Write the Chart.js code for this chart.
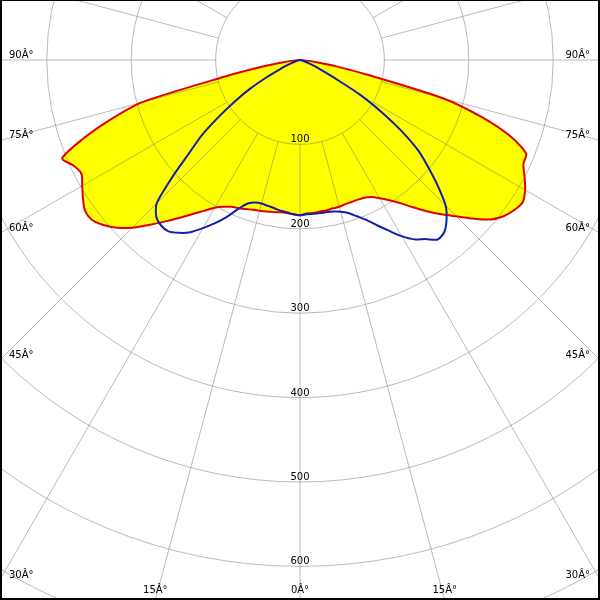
<!DOCTYPE html>
<html>
<head>
<meta charset="utf-8">
<title>Polar intensity diagram</title>
<script src="https://cdn.jsdelivr.net/npm/chart.js@4.4.1/dist/chart.umd.min.js"></script>
<style>
  html, body { margin: 0; padding: 0; background: #fff; }
  #wrap { width: 600px; height: 600px; }
</style>
</head>
<body>
<div id="wrap"><canvas id="polarChart" width="600" height="600"></canvas></div>
<script>
// gamma angles (deg), negative = left half of the diagram
const gammaDeg = [-90, -87.5, -85, -82.5, -80, -77.5, -75, -72.5, -70, -67.5, -65, -62.5,
  -60, -57.5, -55, -52.5, -50, -47.5, -45, -42.5, -40, -37.5, -35, -32.5,
  -30, -27.5, -25, -22.5, -20, -17.5, -15, -12.5, -10, -7.5, -5, -2.5,
  0, 2.5, 5, 7.5, 10, 12.5, 15, 17.5, 20, 22.5, 25, 27.5,
  30, 32.5, 35, 37.5, 40, 42.5, 45, 47.5, 50, 52.5, 55, 57.5,
  60, 62.5, 65, 67.5, 70, 72.5, 75, 77.5, 80, 82.5, 85, 87.5, 90];

// red plane (filled yellow)
const planeRed = [0, 0, 5, 20, 45, 92, 195, 236, 274, 305, 296, 292,
  298, 305, 311, 311, 304, 294, 281, 265, 250, 236, 223, 212,
  202, 196, 192, 190, 188, 186, 185, 184, 183, 182, 182, 183,
  184, 182, 182, 181, 181, 180, 180, 179, 179, 179, 180, 183,
  189, 197, 207, 220, 234, 248, 262, 278, 294, 304, 310, 313,
  308, 300, 292, 290, 266, 227, 176, 85, 45, 20, 5, 0, 0];

// blue plane
const planeBlue = [0, 0, 0, 0, 0, 1, 3, 6, 10, 17, 27, 45,
  69, 92, 118, 147, 171, 205, 240, 252, 256, 256, 250, 242,
  230, 218, 205, 191, 181, 177, 176, 177, 178, 180, 181, 183,
  184, 183, 183, 183, 183, 184, 186, 190, 197, 205, 216, 228,
  241, 252, 259, 268, 266, 257, 244, 222, 199, 177, 147, 114,
  82, 46, 27, 17, 10, 6, 3, 1, 0, 0, 0, 0, 0];

const ringValues = [100, 200, 300, 400, 500, 600, 700, 800];
const ringLabels = ["100", "200", "300", "400", "500", "600"];
const angleTicks = [0, 15, 30, 45, 60, 75, 90];

const pxPer100 = 84.4;   // radial scale
const centerX = 300, centerY = 60;
const gridColor = "rgba(120,120,120,0.5)";

function toXY(values) {
  return gammaDeg.map((g, i) => {
    const a = g * Math.PI / 180;
    return { x: values[i] * Math.sin(a), y: -values[i] * Math.cos(a) };
  });
}

const unit = pxPer100 / 100;

const polarGrid = {
  id: "polarGrid",
  beforeDatasetsDraw(chart) {
    const { ctx, scales: { x, y } } = chart;
    const cx = x.getPixelForValue(0), cy = y.getPixelForValue(0);
    ctx.save();
    ctx.strokeStyle = gridColor;
    ctx.lineWidth = 1;
    ringValues.forEach(v => {
      ctx.beginPath();
      ctx.arc(cx, cy, x.getPixelForValue(v) - cx, 0, Math.PI * 2);
      ctx.stroke();
    });
    const r0 = x.getPixelForValue(ringValues[0]) - cx;
    const r1 = x.getPixelForValue(1000) - cx;
    for (let a = 0; a < 360; a += 15) {
      const t = a * Math.PI / 180;
      ctx.beginPath();
      ctx.moveTo(cx + r0 * Math.sin(t), cy + r0 * Math.cos(t));
      ctx.lineTo(cx + r1 * Math.sin(t), cy + r1 * Math.cos(t));
      ctx.stroke();
    }
    ctx.restore();
  },
  afterDatasetsDraw(chart) {
    const { ctx, chartArea, scales: { x, y } } = chart;
    const cx = x.getPixelForValue(0), cy = y.getPixelForValue(0);
    ctx.save();
    ctx.fillStyle = "#000";
    ctx.font = '10px "DejaVu Sans"';

    // ring labels
    ctx.textAlign = "center";
    ctx.textBaseline = "alphabetic";
    ringLabels.forEach(lbl => {
      const r = x.getPixelForValue(Number(lbl)) - cx;
      ctx.fillText(lbl, cx, cy + r - 2);
    });

    // angle labels at the frame edge
    angleTicks.forEach(a => {
      const t = a * Math.PI / 180;
      const sides = a === 0 ? [1] : [-1, 1];
      sides.forEach(side => {
        const s = Math.sin(t), c = Math.cos(t);
        const tx = s > 1e-9 ? (side > 0 ? chartArea.right - cx : cx - chartArea.left) / s : Infinity;
        const ty = c > 1e-9 ? (chartArea.bottom - cy) / c : Infinity;
        const text = a + "Â°";
        if (tx < ty) {
          const yHit = cy + tx * c;
          ctx.textAlign = side < 0 ? "left" : "right";
          ctx.fillText(text, side < 0 ? chartArea.left + 9 : chartArea.right - 10, yHit - 2);
        } else {
          const xHit = cx + side * ty * s;
          ctx.textAlign = "center";
          ctx.fillText(text, xHit, chartArea.bottom - 7);
        }
      });
    });

    // frame
    ctx.fillStyle = "#000";
    ctx.fillRect(0, 0, chart.width, 1);
    ctx.fillRect(0, 0, 2, chart.height);
    ctx.fillRect(chart.width - 2, 0, 2, chart.height);
    ctx.fillRect(0, chart.height - 2, chart.width, 2);
    ctx.restore();
  }
};

const chart = new Chart(document.getElementById("polarChart"), {
  type: "scatter",
  data: {
    datasets: [
      {
        label: "C0-C180",
        data: toXY(planeRed),
        showLine: true,
        borderColor: "#e00000",
        borderWidth: 2,
        backgroundColor: "#ffff00",
        fill: "shape",
        pointRadius: 0,
        tension: 0.25,
        order: 2
      },
      {
        label: "C90-C270",
        data: toXY(planeBlue),
        showLine: true,
        borderColor: "#1020a8",
        borderWidth: 2,
        fill: false,
        pointRadius: 0,
        tension: 0.25,
        order: 1
      }
    ]
  },
  options: {
    responsive: false,
    animation: false,
    layout: { padding: 0 },
    scales: {
      x: { type: "linear", display: false, min: -centerX / unit, max: (600 - centerX) / unit },
      y: { type: "linear", display: false, min: -(600 - centerY) / unit, max: centerY / unit }
    },
    plugins: {
      legend: { display: false },
      tooltip: { enabled: false },
      filler: { drawTime: "beforeDatasetsDraw" }
    }
  },
  plugins: [polarGrid]
});
</script>
</body>
</html>
